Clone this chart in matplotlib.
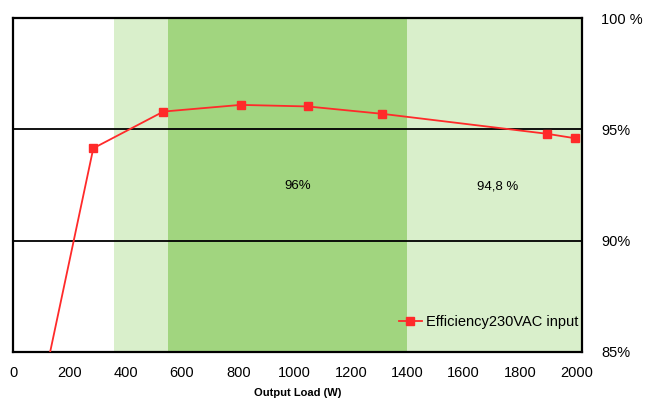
import matplotlib
matplotlib.use('Agg')
import matplotlib.pyplot as plt

# data
load_w = [100, 285, 534, 808, 1046, 1310, 1897, 1996]
efficiency = [83.1, 94.15, 95.8, 96.1, 96.03, 95.7, 94.8, 94.6]
band_light = (360, 2020)
band_dark = (550, 1400)
band_labels = ['96%', '94,8 %']
band_label_x = [1010, 1722]
x_ticks = [0, 200, 400, 600, 800, 1000, 1200, 1400, 1600, 1800, 2000]
y_ticks = [85, 90, 95, 100]
y_labels = ['85%', '90%', '95%', '100 %']

plt.rcParams['font.family'] = ['Liberation Sans', 'DejaVu Sans']

fig = plt.figure(figsize=(6.53, 4.03), dpi=100)
ax = fig.add_axes([0.02, 0.127, 0.871, 0.828])

ax.axvspan(band_light[0], band_light[1], color='#d9efcb', lw=0, zorder=0)
ax.axvspan(band_dark[0], band_dark[1], color='#a1d57f', lw=0, zorder=0)
for yv in [90, 95]:
    ax.axhline(yv, color='black', lw=1.3, zorder=1)

ax.plot(load_w, efficiency, color='#ff2a2a', lw=1.3, marker='s', ms=5.5,
        label='Efficiency230VAC input', zorder=3)

for lab, xv in zip(band_labels, band_label_x):
    ax.text(xv, 92.45, lab, ha='center', va='center', fontsize=9.5)

ax.set_xlim(0, 2020)
ax.set_ylim(85, 100)
ax.set_xticks(x_ticks)
ax.set_xticklabels([str(v) for v in x_ticks], fontsize=10.5)
ax.yaxis.tick_right()
ax.set_yticks(y_ticks)
ax.set_yticklabels(y_labels, fontsize=10.5)
ax.tick_params(length=0, pad=10)
ax.tick_params(axis='y', pad=14)
ax.set_xlabel('Output Load (W)', fontsize=8, labelpad=6, fontweight='bold')
for s in ax.spines.values():
    s.set_linewidth(1.6)

ax.legend(loc='lower right', bbox_to_anchor=(1.005, 0.05), frameon=False,
          fontsize=10.5, handlelength=1.6, handletextpad=0.3, borderaxespad=0)

fig.savefig('out.png', dpi=100)
